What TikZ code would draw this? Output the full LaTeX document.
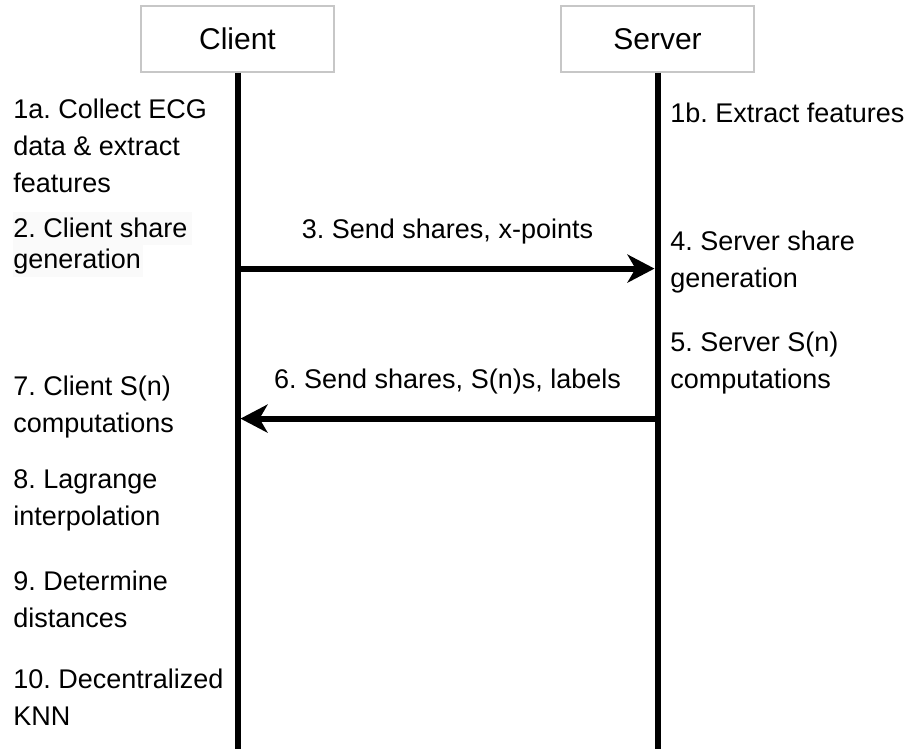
\documentclass[tikz,border=0pt]{standalone}
\usepackage{fontspec}
\setmainfont{Liberation Sans}
\usetikzlibrary{arrows.meta}
\frenchspacing

\begin{document}
\begin{tikzpicture}[
    x=0.5pt, y=-0.5pt,
    actor/.style={draw=black!22, line width=0.6pt, fill=white,
                  minimum width=96.5pt, minimum height=33pt,
                  font=\fontsize{15pt}{18pt}\selectfont},
    steplabel/.style={anchor=base west, inner sep=0pt, align=left,
                      font=\fontsize{13.5pt}{18.5pt}\selectfont},
    msglabel/.style={anchor=base, inner sep=0pt,
                     font=\fontsize{13.5pt}{18.5pt}\selectfont},
    lifeline/.style={line width=3pt},
    message/.style={line width=3pt,
                    -{Stealth[length=13.5pt,width=14pt,inset=4pt]},
                    shorten >=1.5pt},
    highlight/.style={fill=black!2}
]

\useasboundingbox (0,0) rectangle (910,749);

% text columns (steps are placed at the baseline of their last line)
\def\leftcol{13}
\def\rightcol{670}

% message rows, measured from the bottom of the actor boxes
\def\rowA{-98pt}
\def\rowB{-173pt}

% --- ACTORS ---
\node[actor] (client) at (237.5,39) {Client};
\node[actor] (server) at (657.5,39) {Server};

% --- LIFELINES ---
\coordinate (clientend) at (client.south |- 0,749);
\coordinate (serverend) at (server.south |- 0,749);
\draw[lifeline] (client.south) -- (clientend);
\draw[lifeline] (server.south) -- (serverend);

% --- MESSAGES ---
\draw[message] ([yshift=\rowA]client.south)
          -- ([yshift=\rowA]server.south)
          node[msglabel,midway,yshift=15pt] {3. Send shares, x-points};

\draw[message] ([yshift=\rowB]server.south)
          -- ([yshift=\rowB]client.south)
          node[msglabel,midway,yshift=15pt] {6. Send shares, S(n)s, labels};

% --- CLIENT STEPS ---
\fill[highlight] (\leftcol,212) rectangle (192,245);
\fill[highlight] (\leftcol,245) rectangle (143,277);
\node[steplabel] (s1a) at (\leftcol,192) {1a. Collect ECG\\data \& extract\\features};
\node[steplabel,font=\fontsize{13.5pt}{15.5pt}\selectfont]
  (s2) at (\leftcol,268) {2. Client share\\generation};
\node[steplabel] (s7) at (\leftcol,432) {7. Client S(n)\\computations};
\node[steplabel] (s8) at (\leftcol,525) {8. Lagrange\\interpolation};
\node[steplabel] (s9) at (\leftcol,627) {9. Determine\\distances};
\node[steplabel] (s10) at (\leftcol,725) {10. Decentralized\\KNN};

% --- SERVER STEPS ---
\node[steplabel] (s1b) at (\rightcol,123) {1b. Extract features};
\node[steplabel] (s4) at (\rightcol,287) {4. Server share\\generation};
\node[steplabel] (s5) at (\rightcol,388) {5. Server S(n)\\computations};

\end{tikzpicture}
\end{document}
